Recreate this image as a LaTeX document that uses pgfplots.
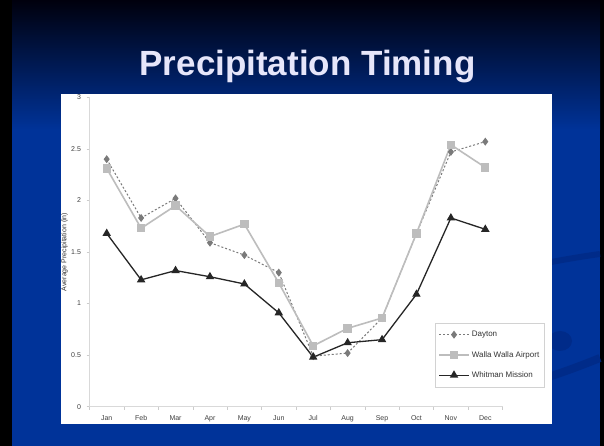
\documentclass[border=0pt]{standalone}
\usepackage{pgfplots}
\pgfplotsset{compat=1.18}
\usepackage{fontspec}
\setmainfont{Liberation Sans}
\definecolor{slideblue}{HTML}{003399}
\definecolor{swoosh}{HTML}{002A85}
\definecolor{titlecol}{HTML}{E6E6FA}
\definecolor{dayton}{HTML}{7A7A7A}
\definecolor{walla}{HTML}{BDBDBD}
\definecolor{whitman}{HTML}{262626}
\begin{document}
\begin{tikzpicture}
\begin{scope}[x=1pt,y=1pt]
% slide background
\fill[black] (0,0) rectangle (604,446);
\fill[slideblue] (12,0) rectangle (600,316);
\shade[top color=black!95!blue, bottom color=slideblue] (12,316) rectangle (600,446);
% faint swooshes
\draw[swoosh, line width=6pt, opacity=0.8] (520,178) .. controls (560,186) and (585,190) .. (600,192);
\draw[swoosh, line width=8pt, opacity=0.8] (520,60) .. controls (560,72) and (585,82) .. (600,88);
\fill[swoosh, opacity=0.8] (560,105) ellipse (12 and 10);
% white chart area
\fill[white] (61,22) rectangle (552,352);
% title
\node[anchor=base, text=titlecol, font=\fontsize{35}{40}\selectfont\bfseries] at (307.5,370) {Precipitation Timing};
\end{scope}
\begin{axis}[
  at={(89.5pt,39.3pt)}, anchor=south west,
  scale only axis, width=413pt, height=309.4pt,
  xmin=-0.5, xmax=11.5, ymin=0, ymax=3,
  axis x line*=bottom, axis y line*=left,
  x axis line style={-, draw=gray!30, line width=0.8pt},
  y axis line style={-, draw=gray!30, line width=0.8pt},
  xtick={0,...,11},
  xticklabels={Jan,Feb,Mar,Apr,May,Jun,Jul,Aug,Sep,Oct,Nov,Dec},
  major x tick style={draw=none},
  minor xtick={-0.5,0.5,...,11.5},
  minor x tick style={draw=gray!40, line width=0.5pt},
  minor tick length=3pt,
  ytick={0,0.5,1,1.5,2,2.5,3},
  yticklabels={0,0.5,1,1.5,2,2.5,3},
  major y tick style={draw=gray!40, line width=0.5pt},
  major tick length=3pt,
  tick align=outside,
  tick label style={font=\fontsize{7}{8}\selectfont, text=black!75},
  xticklabel style={yshift=-2pt},
  yticklabel style={xshift=-2pt},
  ylabel={Average Precipitation (in)},
  ylabel style={at={(axis description cs:-0.0605,0.5)}, anchor=center, font=\fontsize{7}{8}\selectfont, text=black!80},
  legend style={at={(0.8366,0.2705)}, anchor=north west, draw=gray!35,
    font=\fontsize{8}{9}\selectfont, text=black!80, row sep=9pt,
    inner xsep=3pt, inner ysep=6pt, cells={anchor=west}},
  legend image code/.code={\draw[#1, mark repeat=2, mark phase=2] plot coordinates {(0pt,0pt) (15pt,0pt) (30pt,0pt)};},
  clip=false,
]
\addplot[dayton, line width=1pt, dash pattern=on 2pt off 2pt, mark=diamond*, mark size=3.2pt, mark options={solid, fill=dayton}]
coordinates {(0,2.40) (1,1.83) (2,2.02) (3,1.59) (4,1.47) (5,1.30) (6,0.49) (7,0.52) (8,0.86) (9,1.68) (10,2.47) (11,2.57)};
\addlegendentry{Dayton}
\addplot[walla, line width=1.6pt, mark=square*, mark size=3.4pt, mark options={solid, fill=walla}]
coordinates {(0,2.31) (1,1.73) (2,1.95) (3,1.65) (4,1.77) (5,1.20) (6,0.59) (7,0.76) (8,0.86) (9,1.68) (10,2.54) (11,2.32)};
\addlegendentry{Walla Walla Airport}
\addplot[whitman, line width=1.3pt, mark=triangle*, mark size=3.6pt, mark options={solid, fill=whitman}]
coordinates {(0,1.68) (1,1.23) (2,1.32) (3,1.26) (4,1.19) (5,0.91) (6,0.48) (7,0.62) (8,0.65) (9,1.09) (10,1.83) (11,1.72)};
\addlegendentry{Whitman Mission}
\end{axis}
\end{tikzpicture}
\end{document}
